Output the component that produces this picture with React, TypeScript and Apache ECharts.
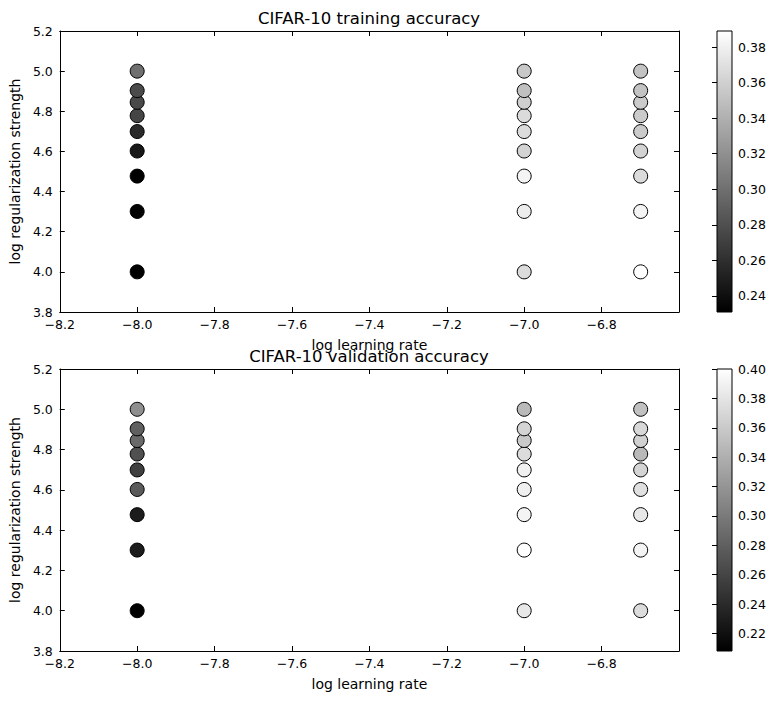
import { useEffect, useRef } from 'react';
import * as echarts from 'echarts';

// log10 of the learning rates and regularization strengths that were tried
const logLearningRates = [-8.0, -7.0, -6.699];
const logRegStrengths = [4.0, 4.301, 4.477, 4.602, 4.699, 4.778, 4.845, 4.903, 5.0];

// one row per learning rate, in the order of logRegStrengths
const trainAccuracy = [
    [0.231, 0.232, 0.231, 0.246, 0.257, 0.274, 0.276, 0.277, 0.300],
    [0.367, 0.378, 0.382, 0.362, 0.367, 0.367, 0.360, 0.350, 0.355],
    [0.389, 0.382, 0.367, 0.362, 0.357, 0.357, 0.357, 0.352, 0.352],
];
const valAccuracy = [
    [0.208, 0.229, 0.229, 0.276, 0.256, 0.268, 0.288, 0.280, 0.316],
    [0.383, 0.400, 0.392, 0.389, 0.389, 0.374, 0.359, 0.368, 0.347],
    [0.374, 0.392, 0.383, 0.377, 0.368, 0.347, 0.365, 0.371, 0.353],
];

const trainRange = [0.231, 0.389];
const valRange = [0.208, 0.400];
const trainBarTicks = [0.24, 0.26, 0.28, 0.30, 0.32, 0.34, 0.36, 0.38];
const valBarTicks = [0.22, 0.24, 0.26, 0.28, 0.30, 0.32, 0.34, 0.36, 0.38, 0.40];

const FONT = "'DejaVu Sans', sans-serif";
const fmt = (v: number, d: number) => v.toFixed(d).replace('-', '\u2212');

const App = () => {
    const chartRef = useRef<HTMLDivElement | null>(null);

    useEffect(() => {
        if (!chartRef.current) return;
        const chart = echarts.init(chartRef.current, undefined, { renderer: 'svg' });

        const plotLeft = 59, plotWidth = 620, barLeft = 717, barWidth = 15;
        const panels = [
            { top: 31, height: 281, title: 'CIFAR-10 training accuracy', acc: trainAccuracy, range: trainRange, ticks: trainBarTicks },
            { top: 369, height: 282, title: 'CIFAR-10 validation accuracy', acc: valAccuracy, range: valRange, ticks: valBarTicks },
        ];

        const points = (acc: number[][]) =>
            logLearningRates.flatMap((lr, i) => logRegStrengths.map((rs, j) => [lr, rs, acc[i][j]]));

        const black = { color: '#000', width: 1 };
        const tick = { inside: true, length: 5, lineStyle: black };

        const grid: any[] = [];
        const xAxis: any[] = [];
        const yAxis: any[] = [];
        const series: any[] = [];
        const visualMap: any[] = [];
        const graphic: any[] = [];

        panels.forEach((p, k) => {
            grid.push({ left: plotLeft, top: p.top, width: plotWidth, height: p.height });
            const g = k;
            // main x axis, with a tick-only twin on top
            xAxis.push({
                gridIndex: g, type: 'value', min: -8.2, max: -6.6, interval: 0.2, position: 'bottom',
                name: 'log learning rate', nameLocation: 'middle', nameGap: 26,
                nameTextStyle: { color: '#000', fontSize: 14, fontFamily: FONT },
                axisLine: { lineStyle: black }, axisTick: tick, splitLine: { show: false },
                axisLabel: {
                    color: '#000', fontSize: 12.5, fontFamily: FONT, margin: 6,
                    formatter: (v: number) => (v > -6.65 ? '' : fmt(v, 1)),
                },
            });
            xAxis.push({
                gridIndex: g, type: 'value', min: -8.2, max: -6.6, interval: 0.2, position: 'top',
                axisLine: { lineStyle: black }, axisTick: tick, splitLine: { show: false }, axisLabel: { show: false },
            });
            yAxis.push({
                gridIndex: g, type: 'value', min: 3.8, max: 5.2, interval: 0.2, position: 'left',
                name: 'log regularization strength', nameLocation: 'middle', nameGap: 36,
                nameTextStyle: { color: '#000', fontSize: 14, fontFamily: FONT },
                axisLine: { lineStyle: black }, axisTick: tick, splitLine: { show: false },
                axisLabel: { color: '#000', fontSize: 12.5, fontFamily: FONT, margin: 7, formatter: (v: number) => fmt(v, 1) },
            });
            yAxis.push({
                gridIndex: g, type: 'value', min: 3.8, max: 5.2, interval: 0.2, position: 'right',
                axisLine: { lineStyle: black }, axisTick: tick, splitLine: { show: false }, axisLabel: { show: false },
            });
            series.push({
                type: 'scatter', xAxisIndex: k * 2, yAxisIndex: k * 2,
                symbol: 'circle', symbolSize: 14,
                itemStyle: { borderColor: '#000', borderWidth: 1, opacity: 1 },
                data: points(p.acc),
            });
            visualMap.push({
                type: 'continuous', show: false, seriesIndex: k, dimension: 2,
                min: p.range[0], max: p.range[1], inRange: { color: ['#000000', '#ffffff'] },
            });
            graphic.push({
                type: 'text', x: plotLeft + plotWidth / 2, y: p.top - 13,
                style: { text: p.title, fill: '#000', font: `16.5px ${FONT}`, textAlign: 'center', textVerticalAlign: 'middle' },
            });
        });

        // colorbars
        panels.forEach((p, k) => {
            grid.push({ left: barLeft, top: p.top, width: barWidth, height: p.height });
            const g = 2 + k;
            xAxis.push({ gridIndex: g, type: 'value', show: false, min: 0, max: 1 });
            yAxis.push({
                gridIndex: g, type: 'value', position: 'right', min: p.range[0], max: p.range[1], z: 5,
                axisLine: { show: false }, splitLine: { show: false },
                axisTick: { inside: true, length: 5, lineStyle: black, customValues: p.ticks },
                axisLabel: {
                    color: '#000', fontSize: 12.5, fontFamily: FONT, margin: 6,
                    customValues: p.ticks, formatter: (v: number) => v.toFixed(2),
                },
            });
            graphic.push({
                type: 'rect', z: 0,
                shape: { x: barLeft, y: p.top, width: barWidth, height: p.height },
                style: {
                    fill: new echarts.graphic.LinearGradient(0, 0, 0, 1, [
                        { offset: 0, color: '#ffffff' },
                        { offset: 1, color: '#000000' },
                    ]),
                    stroke: '#000', lineWidth: 1,
                },
            });
        });

        chart.setOption({
            animation: false,
            backgroundColor: '#fff',
            grid, xAxis, yAxis, series, visualMap, graphic,
        });

        return () => chart.dispose();
    }, []);

    return <div ref={chartRef} style={{ position: 'absolute', left: 0, top: 0, width: 778, height: 701 }} />;
};

export default App;
